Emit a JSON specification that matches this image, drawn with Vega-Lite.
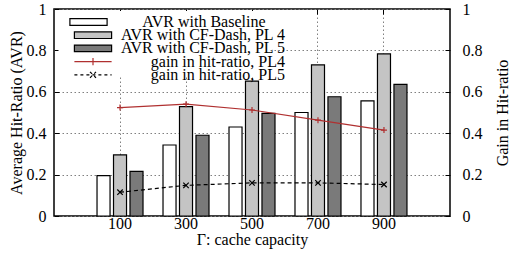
{
  "$schema": "https://vega.github.io/schema/vega-lite/v6.json",
  "width": 396,
  "height": 207,
  "autosize": {"type": "none"},
  "padding": {"left": 54, "top": 9, "right": 61, "bottom": 48},
  "background": "white",
  "datasets": {
    "bars": [
      {"cap": "100", "series": "AVR with Baseline", "v": 0.195},
      {"cap": "100", "series": "AVR with CF-Dash, PL 4", "v": 0.295},
      {"cap": "100", "series": "AVR with CF-Dash, PL 5", "v": 0.216},
      {"cap": "300", "series": "AVR with Baseline", "v": 0.343},
      {"cap": "300", "series": "AVR with CF-Dash, PL 4", "v": 0.528},
      {"cap": "300", "series": "AVR with CF-Dash, PL 5", "v": 0.39},
      {"cap": "500", "series": "AVR with Baseline", "v": 0.43},
      {"cap": "500", "series": "AVR with CF-Dash, PL 4", "v": 0.652},
      {"cap": "500", "series": "AVR with CF-Dash, PL 5", "v": 0.496},
      {"cap": "700", "series": "AVR with Baseline", "v": 0.5},
      {"cap": "700", "series": "AVR with CF-Dash, PL 4", "v": 0.73},
      {"cap": "700", "series": "AVR with CF-Dash, PL 5", "v": 0.576},
      {"cap": "900", "series": "AVR with Baseline", "v": 0.556},
      {"cap": "900", "series": "AVR with CF-Dash, PL 4", "v": 0.783},
      {"cap": "900", "series": "AVR with CF-Dash, PL 5", "v": 0.636}
    ],
    "gains": [
      {"cap": "100", "series": "gain in hit-ratio, PL4", "v": 0.524},
      {"cap": "300", "series": "gain in hit-ratio, PL4", "v": 0.54},
      {"cap": "500", "series": "gain in hit-ratio, PL4", "v": 0.512},
      {"cap": "700", "series": "gain in hit-ratio, PL4", "v": 0.463},
      {"cap": "900", "series": "gain in hit-ratio, PL4", "v": 0.415},
      {"cap": "100", "series": "gain in hit-ratio, PL5", "v": 0.115},
      {"cap": "300", "series": "gain in hit-ratio, PL5", "v": 0.148},
      {"cap": "500", "series": "gain in hit-ratio, PL5", "v": 0.16},
      {"cap": "700", "series": "gain in hit-ratio, PL5", "v": 0.16},
      {"cap": "900", "series": "gain in hit-ratio, PL5", "v": 0.152}
    ]
  },
  "layer": [
    {
      "data": {"name": "bars"},
      "transform": [{"filter": "datum.series == 'AVR with Baseline'"}],
      "mark": {"type": "bar", "stroke": "black", "strokeWidth": 1.2},
      "encoding": {
        "x": {
          "field": "cap", "type": "ordinal",
          "scale": {"type": "band", "paddingInner": 0.303, "paddingOuter": 0.652},
          "axis": {
            "orient": "bottom", "title": "Γ: cache capacity", "labelAngle": 0,
            "grid": true, "gridDash": [1.5, 2.5], "gridColor": "#808080",
            "tickSize": -5, "labelPadding": 4, "titlePadding": 0
          }
        },
        "xOffset": {
          "field": "series", "type": "nominal",
          "scale": {"domain": ["AVR with Baseline", "AVR with CF-Dash, PL 4", "AVR with CF-Dash, PL 5"], "paddingInner": 0.21, "paddingOuter": 0}
        },
        "y": {
          "field": "v", "type": "quantitative",
          "scale": {"domain": [0, 1], "nice": false},
          "axis": {
            "orient": "left", "title": "Average Hit-Ratio (AVR)",
            "values": [0, 0.2, 0.4, 0.6, 0.8, 1], "format": "~g",
            "grid": true, "gridDash": [1.5, 2.5], "gridColor": "#808080",
            "tickSize": -5, "labelPadding": 13,
            "titleX": -38, "titleY": 103.5, "titleAlign": "center", "titleBaseline": "middle"
          }
        },
        "fill": {
          "field": "series", "type": "nominal",
          "scale": {"domain": ["AVR with Baseline"], "range": ["white"]},
          "legend": {
            "orient": "none", "legendX": 4.5, "legendY": 2,
            "title": ["\u00a0\u00a0\u00a0\u00a0\u00a0", "\u00a0", "\u00a0", "\u00a0", "\u00a0"],
            "titleOrient": "left", "titleFontSize": 16, "titleLineHeight": 11, "titlePadding": 4,
            "titleBaseline": "top", "titleAnchor": "start",
            "padding": 3, "fillColor": "white",
            "labelFont": "Liberation Serif", "labelFontSize": 16, "labelColor": "black",
            "labelAlign": "right", "labelOffset": 184, "labelLimit": 0,
            "symbolSize": 36, "symbolType": "M-1.2,-1.1H11.2V1.1H-1.2Z",
            "symbolStrokeColor": "black", "symbolStrokeWidth": 1.2, "symbolOpacity": 1
          }
        }
      }
    },
    {
      "data": {"name": "bars"},
      "transform": [{"filter": "datum.series == 'AVR with CF-Dash, PL 4'"}],
      "mark": {"type": "bar", "stroke": "black", "strokeWidth": 1.2},
      "encoding": {
        "x": {"field": "cap", "type": "ordinal", "axis": null},
        "xOffset": {"field": "series", "type": "nominal"},
        "y": {"field": "v", "type": "quantitative", "axis": null},
        "fill": {
          "field": "series", "type": "nominal",
          "scale": {"domain": ["AVR with CF-Dash, PL 4"], "range": ["#c4c4c4"]},
          "legend": {
            "orient": "none", "legendX": 28, "legendY": 15.2,
            "title": null, "padding": 3,
            "labelFont": "Liberation Serif", "labelFontSize": 16, "labelColor": "black",
            "labelAlign": "right", "labelOffset": 184, "labelLimit": 0,
            "symbolSize": 36, "symbolType": "M-6.2,-1.1H6.2V1.1H-6.2Z",
            "symbolStrokeColor": "black", "symbolStrokeWidth": 1.2, "symbolOpacity": 1
          }
        }
      }
    },
    {
      "data": {"name": "bars"},
      "transform": [{"filter": "datum.series == 'AVR with CF-Dash, PL 5'"}],
      "mark": {"type": "bar", "stroke": "black", "strokeWidth": 1.2},
      "encoding": {
        "x": {"field": "cap", "type": "ordinal", "axis": null},
        "xOffset": {"field": "series", "type": "nominal"},
        "y": {"field": "v", "type": "quantitative", "axis": null},
        "fill": {
          "field": "series", "type": "nominal",
          "scale": {"domain": ["AVR with CF-Dash, PL 5"], "range": ["#7a7a7a"]},
          "legend": {
            "orient": "none", "legendX": 28, "legendY": 28.4,
            "title": null, "padding": 3,
            "labelFont": "Liberation Serif", "labelFontSize": 16, "labelColor": "black",
            "labelAlign": "right", "labelOffset": 184, "labelLimit": 0,
            "symbolSize": 36, "symbolType": "M-6.2,-1.1H6.2V1.1H-6.2Z",
            "symbolStrokeColor": "black", "symbolStrokeWidth": 1.2, "symbolOpacity": 1
          }
        }
      }
    },
    {
      "data": {"name": "gains"},
      "transform": [{"filter": "datum.series == 'gain in hit-ratio, PL4'"}],
      "mark": {"type": "line", "strokeWidth": 1.2},
      "encoding": {
        "x": {
          "field": "cap", "type": "ordinal",
          "axis": {"orient": "top", "labels": false, "title": null, "grid": false, "tickSize": -5, "domain": false}
        },
        "y": {
          "field": "v", "type": "quantitative",
          "axis": {
            "orient": "right", "title": "Gain in Hit-ratio", "titleAngle": 270,
            "values": [0, 0.2, 0.4, 0.6, 0.8, 1], "format": "~g",
            "grid": false, "tickSize": -5, "labelPadding": 17,
            "titleX": 52, "titleY": 103.5, "titleAlign": "center", "titleBaseline": "middle"
          }
        },
        "stroke": {
          "field": "series", "type": "nominal",
          "scale": {"domain": ["gain in hit-ratio, PL4"], "range": ["#b03030"]},
          "legend": {
            "orient": "none", "legendX": 28, "legendY": 41.6,
            "title": null, "padding": 3,
            "labelFont": "Liberation Serif", "labelFontSize": 16, "labelColor": "black",
            "labelAlign": "right", "labelOffset": 184, "labelLimit": 0,
            "symbolSize": 36, "symbolStrokeWidth": 1.2, "symbolOpacity": 1,
            "symbolType": "M-6.2,0H6.2M0,-1.2V1.2"
          }
        }
      }
    },
    {
      "data": {"name": "gains"},
      "transform": [{"filter": "datum.series == 'gain in hit-ratio, PL5'"}],
      "mark": {"type": "line", "strokeWidth": 1.2, "strokeDash": [4, 3]},
      "encoding": {
        "x": {"field": "cap", "type": "ordinal", "axis": null},
        "y": {"field": "v", "type": "quantitative", "axis": null},
        "stroke": {
          "field": "series", "type": "nominal",
          "scale": {"domain": ["gain in hit-ratio, PL5"], "range": ["black"]},
          "legend": {
            "orient": "none", "legendX": 28, "legendY": 54.8,
            "title": null, "padding": 3,
            "labelFont": "Liberation Serif", "labelFontSize": 16, "labelColor": "black",
            "labelAlign": "right", "labelOffset": 184, "labelLimit": 0,
            "symbolSize": 36, "symbolStrokeWidth": 1.2, "symbolOpacity": 1,
            "symbolDash": [3, 3],
            "symbolType": "M-6.2,0H6.2M-1,-1L1,1M-1,1L1,-1"
          }
        }
      }
    },
    {
      "data": {"name": "gains"},
      "transform": [{"filter": "datum.series == 'gain in hit-ratio, PL4'"}],
      "mark": {"type": "point", "filled": false, "stroke": "#b03030", "strokeWidth": 1.2, "size": 36, "opacity": 1, "shape": "M-1,0H1M0,-1V1"},
      "encoding": {
        "x": {"field": "cap", "type": "ordinal", "axis": null},
        "y": {"field": "v", "type": "quantitative", "axis": null}
      }
    },
    {
      "data": {"name": "gains"},
      "transform": [{"filter": "datum.series == 'gain in hit-ratio, PL5'"}],
      "mark": {"type": "point", "filled": false, "stroke": "black", "strokeWidth": 1.2, "size": 30, "opacity": 1, "shape": "M-1,-1L1,1M-1,1L1,-1"},
      "encoding": {
        "x": {"field": "cap", "type": "ordinal", "axis": null},
        "y": {"field": "v", "type": "quantitative", "axis": null}
      }
    }
  ],
  "resolve": {
    "scale": {"fill": "independent", "stroke": "independent"},
    "axis": {"x": "independent", "y": "independent"}
  },
  "config": {
    "view": {"stroke": "black", "strokeWidth": 1.5},
    "font": "Liberation Serif",
    "axis": {
      "domain": false, "tickColor": "black", "tickWidth": 1,
      "labelFont": "Liberation Serif", "labelFontSize": 16, "labelColor": "black",
      "titleFont": "Liberation Serif", "titleFontSize": 16, "titleFontWeight": "normal", "titleColor": "black"
    }
  }
}
